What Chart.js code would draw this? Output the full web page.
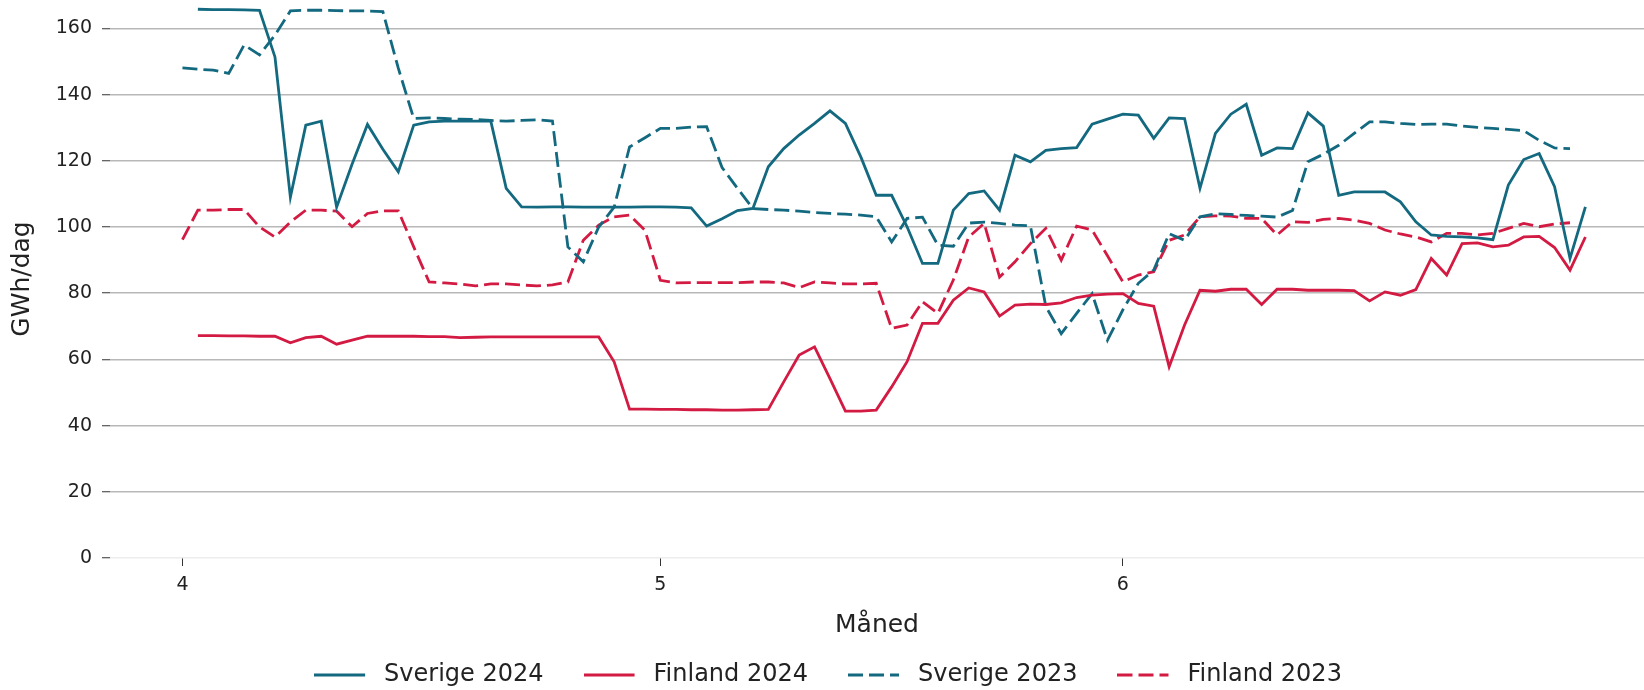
<!DOCTYPE html>
<html>
<head>
<meta charset="utf-8">
<script src="https://cdn.jsdelivr.net/npm/chart.js@4.4.1/dist/chart.umd.min.js"></script>
<style>
  html, body { margin: 0; padding: 0; background: #fff; }
  #wrap { width: 1644px; height: 690px; position: relative; overflow: hidden; }
</style>
</head>
<body>
<div id="wrap"><canvas id="chart"></canvas></div>
<script>
// Daily GWh/dag, April-June. 2024 series start one day later (leap year).
const monthLabels = ['4', '5', '6'];
const monthStartDays = [0, 31, 61];
const firstDay2024 = 1;
const firstDay2023 = 0;

const sverige2024 = [
    165.8, 165.7, 165.7, 165.6, 165.5, 151.4, 109, 130.8, 132, 106,
    119, 131, 123.5, 116.7, 130.8, 131.8, 132, 132, 132, 132,
    111.7, 106.1, 106, 106.1, 106.1, 106, 106, 106, 106, 106.1,
    106.1, 106, 105.8, 100.3, 102.5, 105, 105.6, 118.2, 123.7, 127.8,
    131.3, 135.1, 131.3, 121.2, 109.6, 109.6, 100.1, 89, 89, 105.1,
    110.1, 110.9, 105.1, 121.7, 119.7, 123.2, 123.7, 124, 131.1, 132.6,
    134.1, 133.8, 126.8, 133, 132.8, 111.7, 128.3, 134.1, 137.1, 121.7,
    123.9, 123.7, 134.5, 130.5, 109.6, 110.6, 110.6, 110.6, 107.6, 101.6,
    97.6, 97.2, 97, 96.7, 96.2, 112.7, 120.4, 122.2, 112.2, 90.5,
    106.1
];

const finland2024 = [
    67.2, 67.2, 67.1, 67.1, 67, 67, 65, 66.6, 67, 64.6,
    65.8, 67, 67, 67, 67, 66.9, 66.9, 66.6, 66.7, 66.8,
    66.8, 66.8, 66.8, 66.8, 66.8, 66.8, 66.8, 59.3, 45, 45,
    44.9, 44.9, 44.8, 44.8, 44.7, 44.7, 44.8, 44.9, 53.2, 61.3,
    63.8, 54.2, 44.4, 44.4, 44.7, 51.7, 59.3, 70.9, 70.9, 77.9,
    81.6, 80.4, 73.1, 76.4, 76.7, 76.6, 77.1, 78.7, 79.4, 79.7,
    79.9, 76.9, 76.1, 57.8, 70.4, 80.9, 80.6, 81.2, 81.2, 76.6,
    81.2, 81.2, 80.9, 80.9, 80.9, 80.8, 77.7, 80.4, 79.4, 81.1,
    90.5, 85.5, 95, 95.2, 94, 94.5, 97, 97.2, 93.8, 87,
    97
];

const sverige2023 = [
    148.1, 147.7, 147.4, 146.4, 155, 152, 158, 165.3, 165.5, 165.5,
    165.4, 165.3, 165.3, 165.1, 148, 132.8, 133, 132.8, 132.6, 132.5,
    132.2, 132, 132.2, 132.4, 132, 94, 89.5, 100, 106, 124.2,
    127, 129.8, 129.8, 130.2, 130.3, 118, 111.7, 105.6, 105.3, 105.1,
    104.8, 104.4, 104.1, 103.9, 103.6, 103.1, 95.5, 102.6, 103, 94.5,
    94.2, 101.2, 101.5, 101.1, 100.6, 100.4, 76, 67.8, 73.9, 79.9,
    65.8, 75, 83, 87, 98, 96, 103.1, 104, 103.8, 103.5,
    103.3, 103, 105, 119.7, 122, 124.7, 128.3, 131.8, 131.8, 131.3,
    131, 131.1, 131.1, 130.5, 130.1, 129.8, 129.5, 129.1, 126.2, 123.9,
    123.7
];

const finland2023 = [
    96.2, 105.1, 105.1, 105.3, 105.3, 100, 97, 101.5, 105.1, 105.1,
    104.8, 100.1, 104.1, 104.9, 104.9, 94, 83.4, 83.1, 82.8, 82.2,
    82.8, 82.8, 82.5, 82.2, 82.5, 83.4, 96, 100.6, 103.1, 103.6,
    99, 83.9, 83.1, 83.2, 83.2, 83.2, 83.2, 83.4, 83.4, 83.1,
    81.7, 83.4, 83.1, 82.8, 82.8, 83, 69.4, 70.4, 77.4, 73.9,
    84, 97, 101.1, 84.9, 89.5, 95, 99.6, 90, 100.3, 99.1,
    91.3, 83.4, 85.5, 86.5, 96, 97.6, 103.1, 103.4, 103.3, 102.6,
    102.6, 97.6, 101.6, 101.4, 102.3, 102.6, 102.1, 101.1, 99.1, 97.9,
    97, 95.5, 98.1, 98.1, 97.6, 98.1, 99.6, 101.1, 100.1, 100.9,
    101.3
];

const TEAL = '#13697f';
const RED = '#d31a42';
const FONT = "'DejaVu Sans', sans-serif";
const LINE_W = 2.8;

function toPoints(values, firstDay) {
    return values.map((v, i) => ({ x: firstDay + i, y: v }));
}

function lineSet(label, values, firstDay, color, dashed) {
    return {
        label: label,
        data: toPoints(values, firstDay),
        borderColor: color,
        backgroundColor: color,
        borderWidth: LINE_W,
        borderDash: dashed ? [15, 6] : [],
        pointRadius: 0,
        tension: 0,
        fill: false
    };
}

// legend sample: line plus some empty room before the text
function legendSwatch(color, dash) {
    const c = document.createElement('canvas');
    c.width = 58;
    c.height = 8;
    const g = c.getContext('2d');
    g.strokeStyle = color;
    g.lineWidth = LINE_W;
    g.setLineDash(dash);
    g.beginPath();
    g.moveTo(0, 4);
    g.lineTo(51, 4);
    g.stroke();
    return c;
}

// nudge the legend row a little to the right, like the original figure
const legendShift = {
    id: 'legendShift',
    afterLayout(chart) {
        chart.legend.left += 6;
        chart.legend.right += 6;
    }
};

const ctx = document.getElementById('chart').getContext('2d');

new Chart(ctx, {
    type: 'line',
    data: {
        datasets: [
            lineSet('Sverige 2024', sverige2024, firstDay2024, TEAL, false),
            lineSet('Finland 2024', finland2024, firstDay2024, RED, false),
            lineSet('Sverige 2023', sverige2023, firstDay2023, TEAL, true),
            lineSet('Finland 2023', finland2023, firstDay2023, RED, true)
        ]
    },
    options: {
        responsive: true,
        maintainAspectRatio: false,
        devicePixelRatio: 1,
        animation: false,
        layout: { padding: { top: 0, left: 0, right: 0, bottom: -7 } },
        scales: {
            x: {
                type: 'linear',
                min: -4.7,
                max: 94.8,
                border: { display: false },
                grid: {
                    drawOnChartArea: false,
                    color: 'rgba(0,0,0,0)',
                    tickColor: '#333',
                    tickLength: 8,
                    tickWidth: 1
                },
                afterBuildTicks: (scale) => {
                    scale.ticks = monthStartDays.map(v => ({ value: v }));
                },
                ticks: {
                    padding: 8,
                    maxRotation: 0,
                    color: '#222',
                    font: { family: FONT, size: 19 },
                    callback: (value, index) => monthLabels[index]
                },
                title: {
                    display: true,
                    text: 'Måned',
                    color: '#222',
                    font: { family: FONT, size: 25 },
                    padding: { top: 0, bottom: -17 }
                },
                afterFit: (scale) => {
                    scale.height = 65;
                    scale.paddingLeft = 0;
                    scale.paddingRight = 0;
                }
            },
            y: {
                min: 0,
                max: 168.6,
                border: { display: false },
                grid: {
                    color: (c) => c.tick && c.tick.value === 0 ? '#ededed' : '#b8b8b8',
                    lineWidth: 1.5,
                    tickColor: '#333',
                    tickLength: 8,
                    tickWidth: 1
                },
                ticks: {
                    stepSize: 20,
                    includeBounds: false,
                    padding: 10,
                    color: '#222',
                    font: { family: FONT, size: 19 }
                },
                title: {
                    display: true,
                    text: 'GWh/dag',
                    color: '#222',
                    font: { family: FONT, size: 25 },
                    padding: { top: 7, bottom: 0 }
                },
                afterFit: (scale) => {
                    scale.width = 110;
                    scale.paddingTop = 0;
                    scale.paddingBottom = 0;
                }
            }
        },
        plugins: {
            legend: {
                position: 'bottom',
                labels: {
                    usePointStyle: true,
                    pointStyleWidth: 58,
                    padding: 40,
                    color: '#222',
                    font: { family: FONT, size: 24 },
                    generateLabels: (chart) => {
                        const items = Chart.defaults.plugins.legend.labels.generateLabels(chart);
                        items.forEach(item => {
                            const ds = chart.data.datasets[item.datasetIndex];
                            item.pointStyle = legendSwatch(ds.borderColor, ds.borderDash);
                        });
                        return items;
                    }
                }
            },
            tooltip: { enabled: false }
        }
    },
    plugins: [legendShift]
});
</script>
</body>
</html>
